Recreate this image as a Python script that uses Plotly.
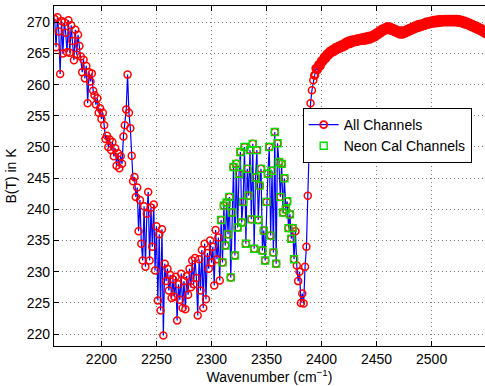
import plotly.graph_objects as go

# Wavenumber grid (cm^-1) and brightness temperatures (K)
wn_low = [
    2157.5, 2158.75, 2160.0, 2161.25, 2162.5, 2163.75, 2165.0, 2166.25, 2167.5, 2168.75,
    2170.0, 2171.25, 2172.5, 2173.75, 2175.0, 2176.25, 2177.5, 2178.75, 2180.0, 2181.25,
    2182.5, 2183.75, 2185.0, 2186.25, 2187.5, 2188.75, 2190.0, 2191.25, 2192.5, 2193.75,
    2195.0, 2196.25, 2197.5, 2198.75, 2200.0, 2201.25, 2202.5, 2203.75, 2205.0, 2206.25,
    2207.5, 2208.75, 2210.0, 2211.25, 2212.5, 2213.75, 2215.0, 2216.25, 2217.5, 2218.75,
    2220.0, 2221.25, 2222.5, 2223.75, 2225.0, 2226.25, 2227.5, 2228.75, 2230.0, 2231.25,
    2232.5, 2233.75, 2235.0, 2236.25, 2237.5, 2238.75, 2240.0, 2241.25, 2242.5, 2243.75,
    2245.0, 2246.25, 2247.5, 2248.75, 2250.0, 2251.25, 2252.5, 2253.75, 2255.0, 2256.25,
    2257.5, 2258.75, 2260.0, 2261.25, 2262.5, 2263.75, 2265.0, 2266.25, 2267.5, 2268.75,
    2270.0, 2271.25, 2272.5, 2273.75, 2275.0, 2276.25, 2277.5, 2278.75, 2280.0, 2281.25,
    2282.5, 2283.75, 2285.0, 2286.25, 2287.5, 2288.75, 2290.0, 2291.25, 2292.5, 2293.75,
    2295.0, 2296.25, 2297.5, 2298.75, 2300.0, 2301.25, 2302.5, 2303.75, 2305.0, 2306.25,
    2307.5, 2308.75, 2310.0, 2311.25, 2312.5, 2313.75, 2315.0, 2316.25, 2317.5, 2318.75,
    2320.0, 2321.25, 2322.5, 2323.75, 2325.0, 2326.25, 2327.5, 2328.75, 2330.0, 2331.25,
    2332.5, 2333.75, 2335.0, 2336.25, 2337.5, 2338.75, 2340.0, 2341.25, 2342.5, 2343.75,
    2345.0, 2346.25, 2347.5, 2348.75, 2350.0, 2351.25, 2352.5, 2353.75, 2355.0, 2356.25,
    2357.5, 2358.75, 2360.0, 2361.25, 2362.5, 2363.75, 2365.0, 2366.25, 2367.5, 2368.75,
    2370.0, 2371.25, 2372.5, 2373.75, 2375.0, 2376.25, 2377.5, 2378.75, 2380.0, 2381.25,
    2382.5, 2383.75, 2385.0, 2386.25, 2387.5, 2388.75, 2390.0, 2391.25, 2392.5,
]
bt_low = [
    270.5, 266.0, 270.8, 268.5, 261.7, 270.2, 265.0, 270.0, 268.3, 265.2,
    270.3, 265.1, 269.5, 267.0, 263.9, 268.8, 264.8, 268.0, 266.2, 264.5,
    262.0, 264.0, 261.0, 263.0, 257.0, 262.0, 260.5, 261.8, 259.0, 258.3,
    256.8, 257.8, 255.5, 256.2, 254.5, 255.5, 253.5, 251.3, 251.8, 250.0,
    251.2, 249.5, 250.8, 248.5, 249.8, 247.0, 249.0, 246.6, 248.5, 247.3,
    251.7, 253.5, 256.0, 261.6, 255.5, 253.0, 248.6, 244.5, 245.2, 242.0,
    243.5, 236.5, 241.5, 234.5, 231.8, 240.5, 230.8, 239.3, 242.8, 231.8,
    240.3, 234.0, 240.8, 230.2, 237.3, 225.4, 236.0, 223.8, 236.8, 219.8,
    231.3, 228.5, 230.5, 227.0, 229.5, 225.8, 228.8, 226.0, 229.2, 222.2,
    228.0, 225.5, 229.7, 224.2, 228.5, 224.0, 229.3, 226.3, 230.5, 227.5,
    231.8, 228.0, 232.2, 229.0, 223.0, 232.0, 227.0, 233.5, 224.2, 234.5,
    225.6, 233.0, 230.5, 235.0, 231.5, 234.0, 227.8, 236.7, 232.0, 235.5,
    228.6, 238.3, 231.5, 240.6, 234.2, 241.1, 236.0, 242.0, 229.1, 239.5,
    246.8, 232.6, 247.3, 237.1, 245.7, 249.2, 237.9, 241.2, 250.0, 234.5,
    246.5, 242.2, 249.5, 238.4, 250.5, 233.7, 245.1, 249.5, 238.3, 243.8,
    246.5, 233.4, 236.6, 231.8, 241.2, 245.7, 250.0, 235.8, 246.2, 233.1,
    252.4, 231.3, 250.6, 247.6, 242.0, 247.3, 239.5, 245.0, 240.0, 241.3,
    237.0, 239.2, 235.3, 237.0, 232.0, 236.5, 231.0, 228.5, 230.0, 225.0,
    226.5, 224.9, 230.8, 234.0, 242.2, 248.4, 257.0, 259.1, 260.7,
]
wn_high = [
    2393.75, 2395.0, 2396.25, 2397.5, 2398.75, 2400.0, 2401.25, 2402.5, 2403.75, 2405.0,
    2406.25, 2407.5, 2408.75, 2410.0, 2411.25, 2412.5, 2413.75, 2415.0, 2416.25, 2417.5,
    2418.75, 2420.0, 2421.25, 2422.5, 2423.75, 2425.0, 2426.25, 2427.5, 2428.75, 2430.0,
    2431.25, 2432.5, 2433.75, 2435.0, 2436.25, 2437.5, 2438.75, 2440.0, 2441.25, 2442.5,
    2443.75, 2445.0, 2446.25, 2447.5, 2448.75, 2450.0, 2451.25, 2452.5, 2453.75, 2455.0,
    2456.25, 2457.5, 2458.75, 2460.0, 2461.25, 2462.5, 2463.75, 2465.0, 2466.25, 2467.5,
    2468.75, 2470.0, 2471.25, 2472.5, 2473.75, 2475.0, 2476.25, 2477.5, 2478.75, 2480.0,
    2481.25, 2482.5, 2483.75, 2485.0, 2486.25, 2487.5, 2488.75, 2490.0, 2491.25, 2492.5,
    2493.75, 2495.0, 2496.25, 2497.5, 2498.75, 2500.0, 2501.25, 2502.5, 2503.75, 2505.0,
    2506.25, 2507.5, 2508.75, 2510.0, 2511.25, 2512.5, 2513.75, 2515.0, 2516.25, 2517.5,
    2518.75, 2520.0, 2521.25, 2522.5, 2523.75, 2525.0, 2526.25, 2527.5, 2528.75, 2530.0,
    2531.25, 2532.5, 2533.75, 2535.0, 2536.25, 2537.5, 2538.75, 2540.0, 2541.25, 2542.5,
    2543.75, 2545.0, 2546.25, 2547.5, 2548.75, 2550.0,
]
bt_high = [
    261.5, 262.6, 262.4, 263.2, 263.0, 263.8, 263.7, 264.4, 264.2, 264.9,
    264.7, 265.3, 265.1, 265.6, 265.3, 265.9, 265.6, 266.1, 265.8, 266.3,
    266.0, 266.5, 266.2, 266.8, 266.5, 267.0, 266.6, 267.1, 266.8, 267.2,
    266.9, 267.3, 267.0, 267.4, 267.1, 267.5, 267.1, 267.6, 267.2, 267.7,
    267.3, 267.8, 267.5, 268.0, 267.7, 268.3, 268.0, 268.6, 268.3, 268.9,
    268.6, 269.1, 268.8, 269.3, 268.8, 269.2, 268.7, 269.0, 268.5, 268.8,
    268.3, 268.6, 268.1, 268.6, 268.1, 268.6, 268.3, 268.8, 268.5, 269.0,
    268.7, 269.2, 268.9, 269.4, 269.1, 269.6, 269.2, 269.7, 269.35, 269.8,
    269.5, 270.0, 269.65, 270.1, 269.75, 270.2, 269.85, 270.3, 269.9, 270.35,
    269.95, 270.4, 270.0, 270.4, 270.05, 270.45, 270.05, 270.45, 270.05, 270.45,
    270.05, 270.45, 270.05, 270.45, 270.0, 270.4, 269.95, 270.3, 269.8, 270.15,
    269.65, 270.0, 269.5, 269.8, 269.3, 269.6, 269.1, 269.4, 268.9, 269.2,
    268.7, 269.0, 268.45, 268.7, 268.2, 268.5,
]
neon_band = [2308.0, 2375.0]   # wavenumber limits of the neon calibration channels

x_ticks = [2200, 2250, 2300, 2350, 2400, 2450, 2500]
y_ticks = [220, 225, 230, 235, 240, 245, 250, 255, 260, 265, 270]

wn_all = wn_low + wn_high
bt_all = bt_low + bt_high
neon_wn = [w for w in wn_all if neon_band[0] <= w <= neon_band[1]]
neon_bt = [b for w, b in zip(wn_all, bt_all) if neon_band[0] <= w <= neon_band[1]]

# thicker circle outlines where the channels are densely packed (smooth window region)
circle_widths = [1.5] * len(wn_low) + [2.4] * len(wn_high)

FONT = "Liberation Sans, Arial, Helvetica, sans-serif"

fig = go.Figure()
fig.add_trace(go.Scatter(
    x=wn_all, y=bt_all, mode="lines+markers", name="All Channels",
    line=dict(color="#0000ff", width=1.2),
    marker=dict(symbol="circle-open", size=7, color="#ff0000",
                line=dict(width=circle_widths)),
))
fig.add_trace(go.Scatter(
    x=neon_wn, y=neon_bt, mode="markers", name="Neon Cal Channels",
    marker=dict(symbol="square-open", size=7, color="#00e000", line=dict(width=1.4)),
))

axis_common = dict(
    showline=True, linecolor="black", linewidth=1.3,
    ticks="inside", ticklen=5, tickcolor="black",
    showgrid=True, gridcolor="#7a7a7a", griddash="1px,3px", gridwidth=1,
    zeroline=False, tickfont=dict(family=FONT, size=14, color="black"),
    automargin=False,
)

fig.update_layout(
    width=485, height=386,
    margin=dict(l=54, r=0, t=6, b=40),
    paper_bgcolor="white", plot_bgcolor="white",
    font=dict(family=FONT, size=14, color="black"),
    showlegend=True,
    legend=dict(
        x=0.577, y=0.70, xanchor="left", yanchor="top",
        bgcolor="white", bordercolor="black", borderwidth=1,
        font=dict(family=FONT, size=14, color="black"),
        itemwidth=30, tracegroupgap=0,
    ),
    xaxis=dict(
        range=[2156.9, 2548.5], tickvals=x_ticks, mirror="ticks",
        title=dict(text="Wavenumber (cm<sup>−1</sup>)", standoff=4,
                   font=dict(family=FONT, size=14)),
        **axis_common,
    ),
    yaxis=dict(
        range=[218.1, 272.6], tickvals=y_ticks,
        title=dict(text="B(T) in K", standoff=6, font=dict(family=FONT, size=14)),
        **axis_common,
    ),
)

fig.write_html(
    "out.html",
    config={"displayModeBar": False},
    post_script="document.body.style.margin='0';document.body.style.overflow='hidden';",
)
